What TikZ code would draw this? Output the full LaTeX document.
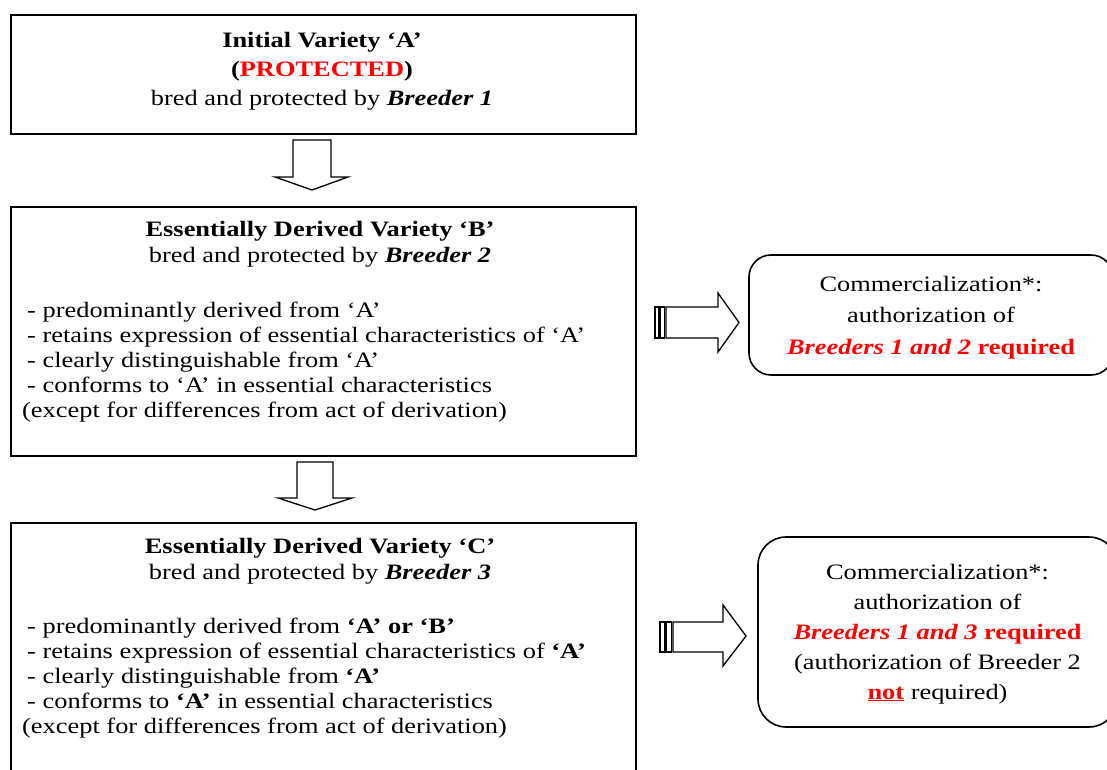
\documentclass[tikz,border=0pt]{standalone}
\usepackage{fontspec}
\setmainfont{Liberation Serif}[FakeStretch=1.2]
\usetikzlibrary{calc}
\begin{document}
\begin{tikzpicture}[x=1pt,y=-1pt,
  box/.style={draw, line width=1.6pt, inner sep=0pt, fill=white},
  rbox/.style={draw, line width=1.6pt, inner sep=0pt, rounded corners=22pt},
  txt/.style={inner sep=0pt, font=\fontsize{22}{25}\selectfont},
  ln/.style={txt, anchor=base west},
  cn/.style={txt, anchor=base},
  blockarrow/.style={draw, line width=1.3pt, line join=miter, fill=white}]
\useasboundingbox (0,0) rectangle (1107,770);
\clip (0,0) rectangle (1107,770);

% boxes
\node[box, minimum width=625pt, minimum height=119pt] (boxA) at (323.5,74.5) {};
\node[box, minimum width=625pt, minimum height=249pt] (boxB) at (323.5,331.5) {};
\node[box, minimum width=625pt, minimum height=270pt] (boxC) at (323.5,658) {};
\node[rbox, minimum width=364pt, minimum height=120pt] (boxR1) at (931,315) {};
\node[rbox, rounded corners=28pt, minimum width=359pt, minimum height=190pt] (boxR2) at (937.5,632) {};

% box A text
\node[cn] (a1) at (322,48) {\textbf{Initial Variety ‘A’}};
\node[cn] (a2) at (322,77) {\textbf{(\textcolor{red}{PROTECTED})}};
\node[cn] (a3) at (322,106) {bred and protected by \textbf{\textit{Breeder 1}}};

% box B text
\node[cn] (b1) at (320,236) {\textbf{Essentially Derived Variety ‘B’}};
\node[cn] (b2) at (320,262) {bred and protected by \textbf{\textit{Breeder 2}}};
\node[ln] (b3) at (27,317) {- predominantly derived from ‘A’};
\node[ln] (b4) at (27,342) {- retains expression of essential characteristics of ‘A’};
\node[ln] (b5) at (27,367) {- clearly distinguishable from ‘A’};
\node[ln] (b6) at (27,392) {- conforms to ‘A’ in essential characteristics};
\node[ln] (b7) at (22,417) {(except for differences from act of derivation)};

% box C text
\node[cn] (c1) at (320,553) {\textbf{Essentially Derived Variety ‘C’}};
\node[cn] (c2) at (320,579) {bred and protected by \textbf{\textit{Breeder 3}}};
\node[ln] (c3) at (27,633) {- predominantly derived from \textbf{‘A’ or ‘B’}};
\node[ln] (c4) at (27,658) {- retains expression of essential characteristics of \textbf{‘A’}};
\node[ln] (c5) at (27,683) {- clearly distinguishable from \textbf{‘A’}};
\node[ln] (c6) at (27,708) {- conforms to \textbf{‘A’} in essential characteristics};
\node[ln] (c7) at (22,733) {(except for differences from act of derivation)};

% right box 1 text
\node[cn] (r11) at (931,291) {Commercialization*:};
\node[cn] (r12) at (931,322) {authorization of};
\node[cn] (r13) at (931,354) {\textcolor{red}{\textbf{\textit{Breeders 1 and 2}} \textbf{required}}};

% right box 2 text
\node[cn] (r21) at (937.5,579) {Commercialization*:};
\node[cn] (r22) at (937.5,609) {authorization of};
\node[cn] (r23) at (937.5,639) {\textcolor{red}{\textbf{\textit{Breeders 1 and 3}} \textbf{required}}};
\node[cn] (r24) at (937.5,669) {(authorization of Breeder 2};
\node[cn] (r25) at (937.5,699) {\textcolor{red}{\underline{\textbf{not}}} required)};

% down arrows
\draw[blockarrow] (293,140) -- (331,140) -- (331,177) -- (348,177) -- (312,190) -- (275,177) -- (293,177) -- cycle;
\draw[blockarrow] (297,462) -- (333,462) -- (333,498) -- (352,498) -- (315,510) -- (278,498) -- (297,498) -- cycle;

% right arrows (striped)
\draw[blockarrow] (655,307) rectangle (659,338);
\draw[blockarrow] (660.5,307) rectangle (664.5,338);
\draw[blockarrow] (666,307) -- (718,307) -- (718,293) -- (739,322.5) -- (718,352) -- (718,338) -- (666,338) -- cycle;

\draw[blockarrow] (660,622) rectangle (665,652);
\draw[blockarrow] (666.5,622) rectangle (671.5,652);
\draw[blockarrow] (673,622) -- (723,622) -- (723,605) -- (746,636) -- (723,666) -- (723,652) -- (673,652) -- cycle;
\end{tikzpicture}
\end{document}
